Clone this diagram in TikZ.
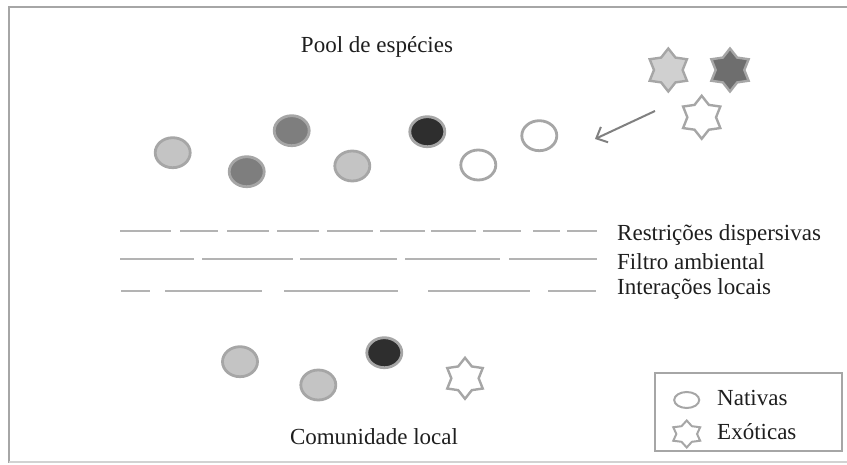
\documentclass[tikz,border=0pt]{standalone}
\usepackage{fontspec}
\setmainfont{Liberation Serif}
\usetikzlibrary{shapes.geometric,arrows.meta}
\definecolor{edgegray}{HTML}{A6A6A6}
\definecolor{lightfill}{HTML}{C4C4C4}
\definecolor{midfill}{HTML}{7E7E7E}
\definecolor{darkfill}{HTML}{2E2E2E}
\definecolor{starmid}{HTML}{6E6E6E}
\definecolor{textcol}{HTML}{1E1E1E}
\begin{document}
\begin{tikzpicture}[x=1pt,y=-1pt,
  sp/.style={ellipse, draw=edgegray, line width=2.8pt, minimum width=35pt, minimum height=30pt, inner sep=0pt},
  starsp/.style={star, star points=6, star point ratio=1.5, draw=edgegray, line width=2.4pt, minimum size=43pt, inner sep=0pt},
  lbl/.style={font=\fontsize{23}{27}\selectfont, text=textcol, inner sep=0pt},
  dashln/.style={draw=edgegray!85!white, line width=2.2pt},
  framest/.style={draw=edgegray, line width=2.4pt},
  arrowst/.style={draw=gray, line width=2pt, -{Straight Barb[length=9pt,width=17pt]}}
]
\useasboundingbox (0,0) rectangle (847,465);
% frame
\draw[framest] (9,463) -- (9,7) -- (850,7);
\draw[draw=edgegray!50!white, line width=1.5pt] (9,462) -- (850,462);

% title
\node[lbl] (pool) at (377,47) {Pool de espécies};

% species pool
\node[sp, fill=lightfill] (p1) at (172.7,152.7) {};
\node[sp, fill=midfill] (p2) at (246.7,171.7) {};
\node[sp, fill=midfill] (p3) at (291.7,130.7) {};
\node[sp, fill=lightfill] (p4) at (352.3,166) {};
\node[sp, fill=darkfill] (p5) at (427.3,131.7) {};
\node[sp, fill=white] (p6) at (478.3,165) {};
\node[sp, fill=white] (p7) at (539.3,135.7) {};

% exotic stars
\node[starsp, fill=lightfill!80!white] (s1) at (668.3,70) {};
\node[starsp, fill=starmid] (s2) at (730,70) {};
\node[starsp, fill=white] (s3) at (701.7,117.3) {};

\coordinate (arrS) at (655,111);
\coordinate (arrE) at (595,139);
\draw[arrowst] (arrS) -- (arrE);

% filters
\foreach \a/\b in {120/171,180/218,227/269,277/319,327/373,380/425,431/476,483/521,533/560,567/597}
  \draw[dashln] (\a,231) -- (\b,231);
\foreach \a/\b in {120/194,202/293,300/397,405/500,509/597}
  \draw[dashln] (\a,259) -- (\b,259);
\foreach \a/\b in {121/150,165/262,284/398,428/530,548/596}
  \draw[dashln] (\a,291) -- (\b,291);

\node[lbl, anchor=west] (f1) at (617,235) {Restrições dispersivas};
\node[lbl, anchor=west] (f2) at (617,262) {Filtro ambiental};
\node[lbl, anchor=west] (f3) at (617,289) {Interações locais};

% local community
\node[sp, fill=lightfill] (c1) at (240,361.7) {};
\node[sp, fill=lightfill] (c2) at (318.3,385) {};
\node[sp, fill=darkfill] (c3) at (384.3,352.7) {};
\node[starsp, fill=white, minimum size=41pt] (c4) at (465,378.3) {};
\node[lbl] (com) at (374,437) {Comunidade local};

% legend
\draw[framest, line width=1.8pt] (655,373) rectangle (842,451);
\node[ellipse, draw=edgegray, line width=2pt, minimum width=25pt, minimum height=16pt, inner sep=0pt] (ln) at (686.7,400) {};
\node[starsp, fill=white, line width=2pt, minimum size=27pt, xscale=1.15, transform shape] (le) at (686.7,434) {};
\node[lbl, anchor=west] (ltn) at (717,398) {Nativas};
\node[lbl, anchor=west] (lte) at (717,432) {Exóticas};
\end{tikzpicture}
\end{document}
